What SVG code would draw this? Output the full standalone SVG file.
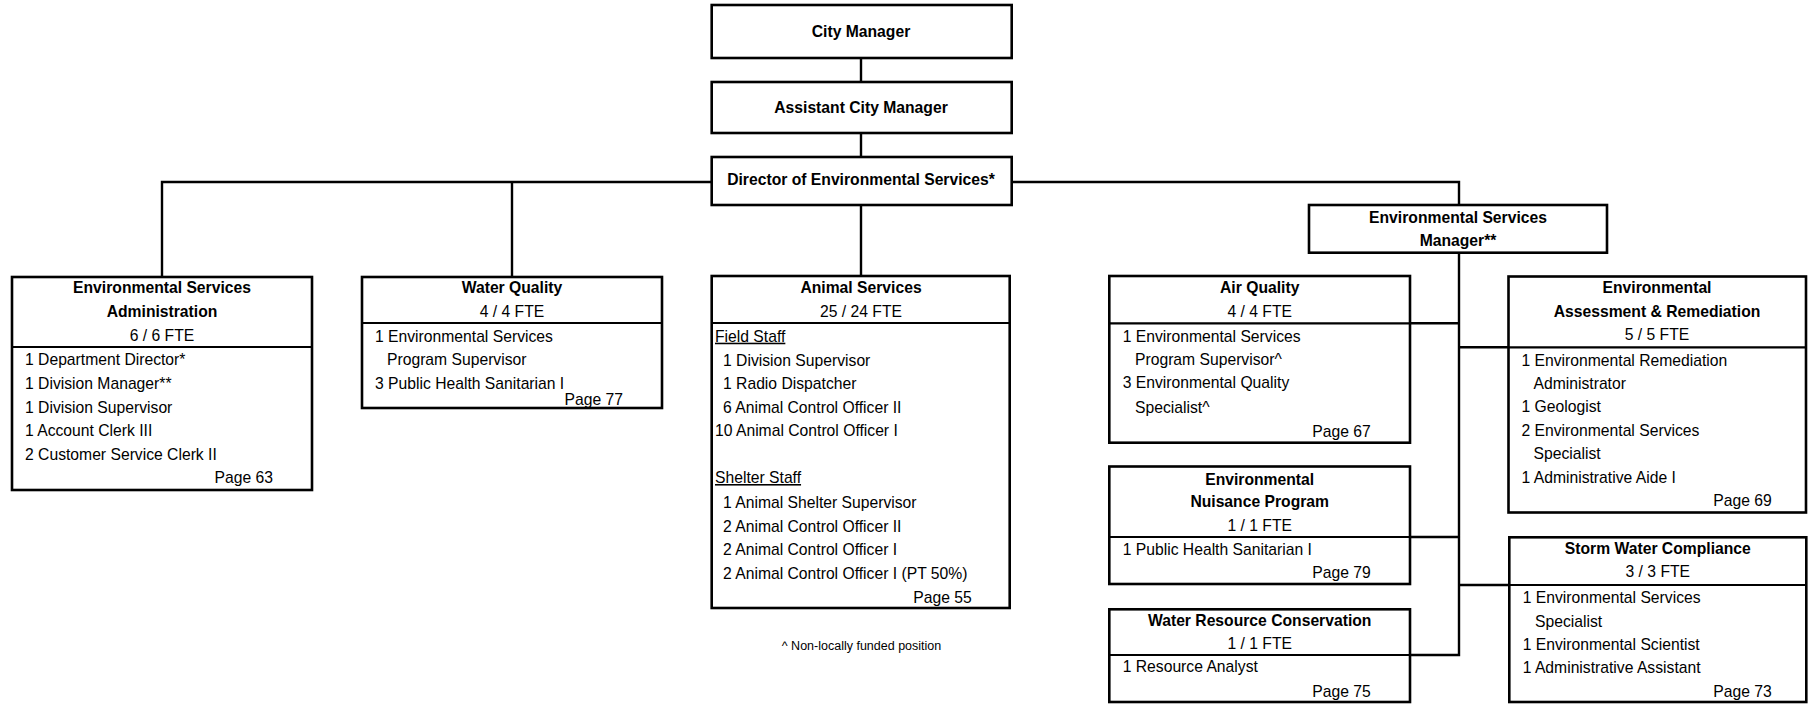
<svg xmlns="http://www.w3.org/2000/svg" width="1811" height="705" viewBox="0 0 1811 705">
<style>
.bx{fill:#fff;stroke:#000;stroke-width:2.6}
.dv{stroke:#000;stroke-width:2.2}
.cn{fill:none;stroke:#000;stroke-width:2.4}
text{font-family:"Liberation Sans",Arial,sans-serif;font-size:15.7px;fill:#000}
.t{font-weight:bold;text-anchor:middle}
.m{text-anchor:middle}
.r{text-anchor:end}
.u{text-decoration:underline}
.fn{font-size:12.5px;text-anchor:middle}
</style>
<rect width="1811" height="705" fill="#fff"/>
<g id="connectors">
<path class="cn" d="M861,58V82M861,133V157M162,277V182H711.7M1011.7,182H1459V205M512,182V277M861,205V276M1459,252.7V655H1410M1410,323.3H1459M1459,347.3H1508.5M1410,537H1459M1459,585H1509.3"/>
</g>
<g id="city-manager">
<rect class="bx" x="711.7" y="5" width="300" height="53"/>
<text class="t" x="861" y="37">City Manager</text>
</g>
<g id="assistant-city-manager">
<rect class="bx" x="711.7" y="82" width="300" height="51"/>
<text class="t" x="861" y="113">Assistant City Manager</text>
</g>
<g id="director">
<rect class="bx" x="711.7" y="157" width="300" height="48"/>
<text class="t" x="861" y="185">Director of Environmental Services*</text>
</g>
<g id="administration">
<rect class="bx" x="12" y="277" width="300" height="213"/>
<line class="dv" x1="12" y1="347" x2="312" y2="347"/>
<text class="t" x="162" y="293">Environmental Services</text>
<text class="t" x="162" y="317">Administration</text>
<text class="m" x="162" y="341">6 / 6 FTE</text>
<text x="25" y="365">1 Department Director*</text>
<text x="25" y="388.5">1 Division Manager**</text>
<text x="25" y="412.5">1 Division Supervisor</text>
<text x="25" y="436">1 Account Clerk III</text>
<text x="25" y="459.5">2 Customer Service Clerk II</text>
<text class="r" x="273" y="483">Page 63</text>
</g>
<g id="water-quality">
<rect class="bx" x="362" y="277" width="300" height="131"/>
<line class="dv" x1="362" y1="323" x2="662" y2="323"/>
<text class="t" x="512" y="293">Water Quality</text>
<text class="m" x="512" y="317">4 / 4 FTE</text>
<text x="375" y="342">1 Environmental Services</text>
<text x="387" y="365">Program Supervisor</text>
<text x="375" y="388.5">3 Public Health Sanitarian I</text>
<text class="r" x="623" y="405">Page 77</text>
</g>
<g id="animal-services">
<rect class="bx" x="711.7" y="276" width="298" height="332"/>
<line class="dv" x1="711.7" y1="323" x2="1009.7" y2="323"/>
<text class="t" x="861" y="293">Animal Services</text>
<text class="m" x="861" y="317">25 / 24 FTE</text>
<text class="u" x="715" y="341.7">Field Staff</text>
<text x="723" y="366">1 Division Supervisor</text>
<text x="723" y="389">1 Radio Dispatcher</text>
<text x="723" y="412.5">6 Animal Control Officer II</text>
<text x="715" y="436">10 Animal Control Officer I</text>
<text class="u" x="715" y="483">Shelter Staff</text>
<text x="723" y="508">1 Animal Shelter Supervisor</text>
<text x="723" y="531.5">2 Animal Control Officer II</text>
<text x="723" y="555">2 Animal Control Officer I</text>
<text x="723" y="578.5">2 Animal Control Officer I (PT 50%)</text>
<text class="r" x="971.7" y="603">Page 55</text>
</g>
<g id="footnote">
<text class="fn" x="861.5" y="650">^ Non-locally funded position</text>
</g>
<g id="env-services-manager">
<rect class="bx" x="1309" y="205" width="298" height="47.7"/>
<text class="t" x="1458" y="222.7">Environmental Services</text>
<text class="t" x="1458" y="246">Manager**</text>
</g>
<g id="air-quality">
<rect class="bx" x="1109.3" y="276" width="300.7" height="166.7"/>
<line class="dv" x1="1109.3" y1="323.3" x2="1410" y2="323.3"/>
<text class="t" x="1259.7" y="293.3">Air Quality</text>
<text class="m" x="1259.7" y="317.3">4 / 4 FTE</text>
<text x="1122.7" y="341.7">1 Environmental Services</text>
<text x="1135" y="365">Program Supervisor^</text>
<text x="1122.7" y="388.3">3 Environmental Quality</text>
<text x="1135" y="412.7">Specialist^</text>
<text class="r" x="1370.7" y="436.7">Page 67</text>
</g>
<g id="nuisance-program">
<rect class="bx" x="1109.3" y="466.5" width="300.7" height="117.5"/>
<line class="dv" x1="1109.3" y1="537" x2="1410" y2="537"/>
<text class="t" x="1259.7" y="484.5">Environmental</text>
<text class="t" x="1259.7" y="507">Nuisance Program</text>
<text class="m" x="1259.7" y="530.7">1 / 1 FTE</text>
<text x="1122.7" y="555">1 Public Health Sanitarian I</text>
<text class="r" x="1370.7" y="578">Page 79</text>
</g>
<g id="water-resource-conservation">
<rect class="bx" x="1109.3" y="609.3" width="300.7" height="92.7"/>
<line class="dv" x1="1109.3" y1="655" x2="1410" y2="655"/>
<text class="t" x="1259.7" y="625.5">Water Resource Conservation</text>
<text class="m" x="1259.7" y="648.5">1 / 1 FTE</text>
<text x="1122.7" y="672">1 Resource Analyst</text>
<text class="r" x="1370.7" y="696.7">Page 75</text>
</g>
<g id="assessment-remediation">
<rect class="bx" x="1508.5" y="276.5" width="297.5" height="236"/>
<line class="dv" x1="1508.5" y1="347.3" x2="1806" y2="347.3"/>
<text class="t" x="1657" y="293.3">Environmental</text>
<text class="t" x="1657" y="316.7">Assessment &amp; Remediation</text>
<text class="m" x="1657" y="340">5 / 5 FTE</text>
<text x="1521.5" y="366">1 Environmental Remediation</text>
<text x="1533.5" y="389.3">Administrator</text>
<text x="1521.5" y="412">1 Geologist</text>
<text x="1521.5" y="436">2 Environmental Services</text>
<text x="1533.5" y="459.3">Specialist</text>
<text x="1521.5" y="482.7">1 Administrative Aide I</text>
<text class="r" x="1771.7" y="505.5">Page 69</text>
</g>
<g id="storm-water-compliance">
<rect class="bx" x="1509.3" y="537.3" width="297" height="164.7"/>
<line class="dv" x1="1509.3" y1="585" x2="1806.3" y2="585"/>
<text class="t" x="1657.8" y="554">Storm Water Compliance</text>
<text class="m" x="1657.8" y="577.3">3 / 3 FTE</text>
<text x="1522.7" y="603.3">1 Environmental Services</text>
<text x="1535" y="626.7">Specialist</text>
<text x="1522.7" y="650">1 Environmental Scientist</text>
<text x="1522.7" y="673.3">1 Administrative Assistant</text>
<text class="r" x="1771.7" y="696.7">Page 73</text>
</g>
</svg>
